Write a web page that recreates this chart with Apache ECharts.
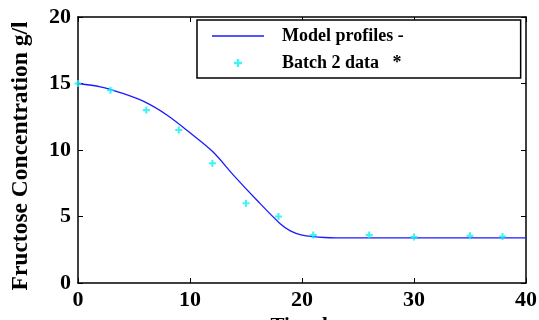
<!DOCTYPE html>
<html lang="en" style="height: 100%">
<head>
  <meta charset="utf-8">
  <title>Fructose concentration</title>
</head>
<body style="height: 100%; margin: 0; background: #fff">
  <div id="container" style="width: 539px; height: 320px"></div>

  <script type="text/javascript" src="https://cdn.jsdelivr.net/npm/echarts@6/dist/echarts.min.js"></script>

  <script type="text/javascript">
    // model curve
    var modelTime = [0, 2, 4, 6, 8, 10, 12, 14, 16, 18, 19, 20, 21, 22, 23, 26, 30, 35, 40];
    var modelConc = [15.0, 14.75, 14.25, 13.6, 12.6, 11.3, 9.9, 8.0, 6.2, 4.5, 3.9, 3.6, 3.48, 3.42, 3.4, 3.4, 3.4, 3.4, 3.4];

    // measured points
    var batchTime = [0, 2.9, 6.1, 9.0, 12.0, 15.0, 17.9, 21.0, 26.0, 30.0, 35.0, 37.9];
    var batchConc = [15.0, 14.5, 13.0, 11.5, 9.0, 6.0, 5.0, 3.6, 3.6, 3.45, 3.55, 3.5];

    var xTicks = [0, 10, 20, 30, 40];
    var yTicks = [0, 5, 10, 15, 20];

    var font = '"Liberation Serif", "Times New Roman", serif';
    var plus = 'path://M3.5,0 L6.5,0 L6.5,3.5 L10,3.5 L10,6.5 L6.5,6.5 L6.5,10 L3.5,10 L3.5,6.5 L0,6.5 L0,3.5 L3.5,3.5 Z';
    var lineIcon = 'path://M0,0 L52,0 L52,1.4 L0,1.4 Z';
    var cyan = '#11f0f0';

    var modelData = modelTime.map(function (t, i) { return [t, modelConc[i]]; });
    var batchData = batchTime.map(function (t, i) { return [t, batchConc[i]]; });

    var myChart = echarts.init(document.getElementById('container'), null, { renderer: 'canvas' });

    var axisLabel = { color: '#000', fontFamily: font, fontWeight: 'bold', fontSize: 22 };
    var axisLine = { show: true, onZero: false, lineStyle: { color: '#000', width: 1.5 } };
    var axisTick = { show: true, inside: true, length: 5, lineStyle: { color: '#000' } };

    var option = {
      animation: false,
      grid: { left: 78, right: 13, top: 17, bottom: 37, containLabel: false, outerBoundsMode: 'none' },
      legend: {
        orient: 'vertical',
        left: 197,
        top: 20,
        padding: [7, 117, 6, 15],
        itemWidth: 52,
        itemHeight: 8,
        itemGap: 9,
        borderColor: '#000',
        borderWidth: 1.5,
        backgroundColor: '#fff',
        textStyle: { color: '#000', fontFamily: font, fontWeight: 'bold', fontSize: 18, padding: [0, 0, 0, 13] },
        data: [
          { name: 'Model profiles -', icon: lineIcon, itemStyle: { color: '#1a1aff' } },
          { name: 'Batch 2 data   *', icon: plus, itemStyle: { color: cyan } }
        ]
      },
      xAxis: [{
        type: 'value',
        min: 0, max: 40, interval: 10,
        name: 'Time h',
        nameLocation: 'middle',
        nameGap: 28,
        nameTextStyle: { color: '#000', fontFamily: font, fontWeight: 'bold', fontSize: 21 },
        axisLine: axisLine,
        axisTick: axisTick,
        axisLabel: Object.assign({ margin: 6, formatter: function (v) { return xTicks.indexOf(v) >= 0 ? v : ''; } }, axisLabel),
        splitLine: { show: false }
      }, {
        type: 'value', position: 'top',
        min: 0, max: 40, interval: 10,
        axisLine: axisLine, axisTick: axisTick,
        axisLabel: { show: false }, splitLine: { show: false }
      }],
      yAxis: [{
        type: 'value',
        min: 0, max: 20, interval: 5,
        name: 'Fructose Concentration g/l',
        nameLocation: 'middle',
        nameGap: 45,
        nameTextStyle: { color: '#000', fontFamily: font, fontWeight: 'bold', fontSize: 23.5, padding: [0, 12, 0, 0] },
        axisLine: axisLine,
        axisTick: axisTick,
        axisLabel: Object.assign({ margin: 7, formatter: function (v) { return yTicks.indexOf(v) >= 0 ? v : ''; } }, axisLabel),
        splitLine: { show: false }
      }, {
        type: 'value', position: 'right',
        min: 0, max: 20, interval: 5,
        axisLine: axisLine, axisTick: axisTick,
        axisLabel: { show: false }, splitLine: { show: false }
      }],
      series: [{
        name: 'Model profiles -',
        type: 'line',
        data: modelData,
        smooth: 0.3,
        symbol: 'none',
        lineStyle: { color: '#1a1aff', width: 1.3 },
        itemStyle: { color: '#1a1aff' },
        z: 3
      }, {
        name: 'Batch 2 data   *',
        type: 'scatter',
        data: batchData,
        symbol: plus,
        symbolSize: 7,
        itemStyle: { color: cyan },
        z: 4
      }]
    };

    myChart.setOption(option);
  </script>
</body>
</html>
